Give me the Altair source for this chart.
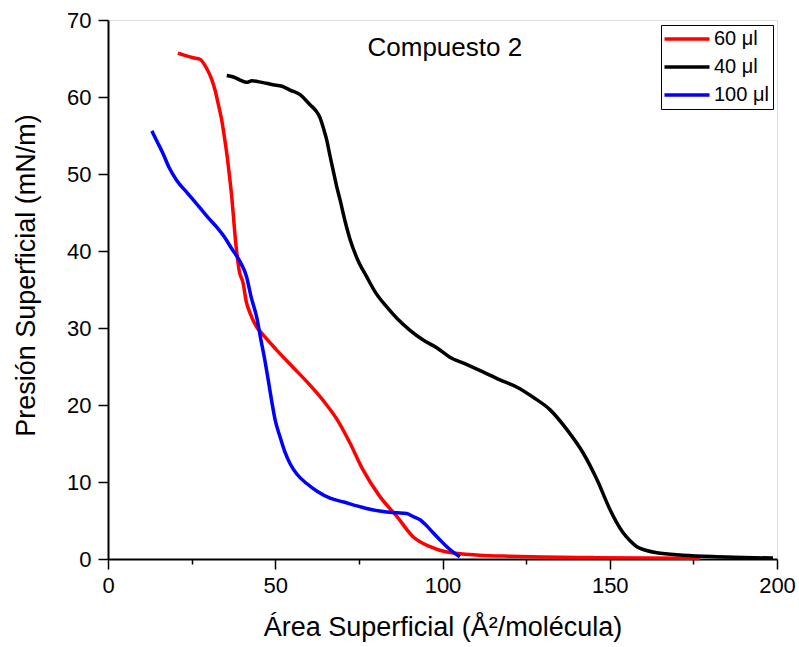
import altair as alt
import pandas as pd

FONT = "Liberation Sans"

# 60 µl (red)
red_x = [20.9, 23, 25.5, 27.5, 29.5, 31, 32, 33, 34, 34.8, 35.5, 36.3, 37, 37.5, 38, 38.5, 39.2, 40.4,
         41.3, 42.5, 44.5, 46, 50.5, 55.3, 59.5, 64.3, 68.5, 72.3, 76.2, 81.3, 86.4, 91.2, 96.3, 101.3,
         111, 120, 130, 145, 160, 177]
red_y = [65.7, 65.4, 65.1, 64.9, 63.7, 62.3, 60.9, 59, 57, 54.8, 52.7, 49.8, 47, 44.5, 41.9, 39.8, 37.5, 35.8,
         33.5, 31.9, 30.1, 29.3, 27.1, 24.9, 23, 20.6, 18.1, 15.1, 11.6, 8.1, 5.5, 2.9, 1.6, 0.9,
         0.5, 0.35, 0.25, 0.18, 0.12, 0.08]

# 40 µl (black)
black_x = [35.5, 37.5, 39.5, 41.5, 43, 46, 49.3, 52, 54.4, 57.4, 60.4, 62, 63.4, 64.5, 65.4, 66.3, 67.3, 68.3,
           69.4, 70.8, 72.3, 74.5, 77.4, 80, 83.4, 86.5, 90.3, 94, 98.4, 102.2, 107, 112.1, 117, 122.3,
           127.1, 132.1, 137.2, 142, 146.2, 150.1, 152, 154, 156, 158.1, 161, 164.1, 171.9, 182, 190, 198.8]
black_y = [62.8, 62.6, 62.2, 61.9, 62.1, 61.9, 61.6, 61.4, 60.9, 60.3, 59, 58.3, 57.3, 55.8, 54.4, 52.5, 50.5, 48.5,
           46.6, 44, 41.6, 39, 36.6, 34.6, 32.7, 31.2, 29.7, 28.5, 27.4, 26.2, 25.3, 24.3, 23.3, 22.3,
           21.0, 19.4, 16.8, 13.8, 10.3, 6.4, 4.8, 3.4, 2.4, 1.6, 1.1, 0.8, 0.5, 0.3, 0.2, 0.12]

# 100 µl (blue)
blue_x = [13.1, 14.7, 16.4, 18.3, 20.5, 24, 27.5, 30, 32.5, 34.5, 37, 39.5, 41.4, 42.8, 44.4, 45.7, 46.9, 48,
          48.9, 50, 51.4, 52.8, 54.4, 56.5, 59.4, 62.5, 66.4, 70.5, 75.3, 79, 83.3, 86.5, 89.3, 91.3, 93.3,
          95.3, 97.2, 99.2, 101.3, 103.2, 105.2]
blue_y = [55.6, 54.2, 52.7, 50.8, 49.2, 47.4, 45.6, 44.3, 43.1, 42, 40.3, 38.6, 36.7, 34, 31.5, 28.5, 25.8, 23,
          20.6, 18, 15.9, 14, 12.4, 11, 9.8, 8.8, 7.9, 7.4, 6.8, 6.4, 6.1, 6, 5.9, 5.5, 5.1,
          4.3, 3.4, 2.5, 1.6, 0.9, 0.3]

series_names = ["60 μl", "40 μl", "100 μl"]
series_colors = ["#ff0000", "#000000", "#0000ff"]

# in-plot title, placed in data coordinates
title_text = ["Compuesto 2"]
title_x = [100.7]
title_y = [65.3]

frames = []
for name, xs, ys in [(series_names[0], red_x, red_y),
                     (series_names[1], black_x, black_y),
                     (series_names[2], blue_x, blue_y)]:
    frames.append(pd.DataFrame({"area": xs, "pres": ys, "serie": name, "idx": range(len(xs))}))
df = pd.concat(frames, ignore_index=True)
df_title = pd.DataFrame({"area": title_x, "pres": title_y, "txt": title_text})

x_scale = alt.Scale(domain=[0, 200], nice=False, zero=False)
y_scale = alt.Scale(domain=[0, 70], nice=False)

x_axis = alt.Axis(
    values=list(range(0, 201, 25)),
    labelExpr="datum.value % 50 === 0 ? datum.label : ''",
    tickSize={"condition": {"test": "datum.value % 50 === 0", "value": 10}, "value": 5},
    title="Área Superficial (Å²/molécula)",
    grid=False, domainColor="black", domainWidth=2, tickColor="black", tickWidth=1.5,
    labelFont=FONT, labelFontSize=22, labelColor="black", labelPadding=6, labelFlush=False,
    labelOverlap=False,
    titleFont=FONT, titleFontSize=27, titleFontWeight="normal", titleColor="black", titlePadding=18,
)
y_axis = alt.Axis(
    values=list(range(0, 71, 5)),
    labelExpr="datum.value % 10 === 0 ? datum.label : ''",
    tickSize={"condition": {"test": "datum.value % 10 === 0", "value": 10}, "value": 5},
    title="Presión Superficial (mN/m)",
    grid=False, domainColor="black", domainWidth=2, tickColor="black", tickWidth=1.5,
    labelFont=FONT, labelFontSize=22, labelColor="black", labelPadding=7, labelFlush=False,
    labelOverlap=False,
    titleFont=FONT, titleFontSize=27, titleFontWeight="normal", titleColor="black", titlePadding=26,
    titleY=255,
)

lines = alt.Chart(df).mark_line(strokeWidth=3.5, interpolate="monotone").encode(
    x=alt.X("area:Q", scale=x_scale, axis=x_axis),
    y=alt.Y("pres:Q", scale=y_scale, axis=y_axis),
    color=alt.Color("serie:N",
                    scale=alt.Scale(domain=series_names, range=series_colors),
                    legend=alt.Legend(title=None, orient="none", legendX=553, legendY=5,
                                      strokeColor="black", fillColor="white", padding=4,
                                      symbolType="M-3,0H3", symbolSize=225, symbolStrokeWidth=3.5,
                                      symbolOffset=12,
                                      labelFont=FONT, labelFontSize=20, labelColor="black",
                                      labelOffset=17, rowPadding=8)),
    order="idx:Q",
    detail="serie:N",
)

title = alt.Chart(df_title).mark_text(
    font=FONT, fontSize=26, color="black", align="center", baseline="alphabetic"
).encode(
    x=alt.X("area:Q", scale=x_scale),
    y=alt.Y("pres:Q", scale=y_scale),
    text="txt:N",
)

chart = alt.layer(lines, title).properties(
    width=669, height=539,
    autosize=alt.AutoSizeParams(type="none"),
    padding={"left": 108, "top": 20, "right": 22, "bottom": 88},
).configure_view(
    stroke="black", strokeWidth=2
).configure(background="white")

chart.save("out.html", embed_options={"renderer": "svg", "actions": False})
